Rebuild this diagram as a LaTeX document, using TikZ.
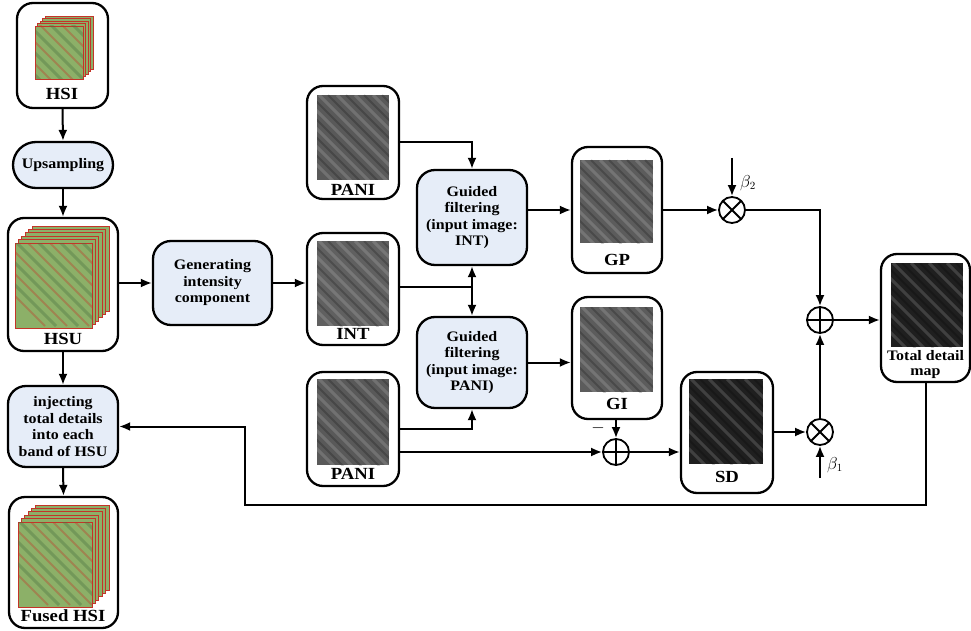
\documentclass[tikz,border=0pt]{standalone}
\usepackage{fontspec}
\setmainfont{Liberation Serif}[FakeStretch=1.1]
\usetikzlibrary{arrows.meta,positioning,calc}
\definecolor{procfill}{RGB}{230,237,248}
\definecolor{hsgreen}{RGB}{140,176,104}
\definecolor{hsred}{RGB}{196,52,40}
\definecolor{hsdark}{RGB}{70,110,62}
\tikzset{
  imgbox/.style={draw,line width=2.3pt,rounded corners=16pt,inner sep=0pt},
  procbox/.style={draw,line width=2.3pt,rounded corners=18pt,fill=procfill,align=center,inner sep=0pt,
    font=\fontsize{14.5}{16.5}\selectfont\bfseries},
  lbl/.style={font=\fontsize{17}{18}\selectfont\bfseries,inner sep=0pt},
  op/.style={draw,circle,line width=1.8pt,minimum size=26pt,inner sep=0pt},
  plusop/.style={op,path picture={\draw[line width=1.8pt]
    (path picture bounding box.north) -- (path picture bounding box.south)
    (path picture bounding box.west) -- (path picture bounding box.east);}},
  timesop/.style={op,path picture={\draw[line width=1.8pt]
    (path picture bounding box.north west) -- (path picture bounding box.south east)
    (path picture bounding box.north east) -- (path picture bounding box.south west);}},
  conn/.style={line width=2pt,-{Latex[length=11pt,width=9pt]}},
  wire/.style={line width=2pt},
}
% gray picture: x1 y1 x2 y2 fill
\newcommand{\grayimg}[5]{%
  \begin{scope}
    \clip (#1,#2) rectangle (#3,#4);
    \fill[#5] (#1,#2) rectangle (#3,#4);
    \foreach \k in {0,18,...,150}
      \draw[white,opacity=0.15,line width=3pt] (#1-70+\k,#2) -- ++(90,90);
    \foreach \k in {9,27,...,150}
      \draw[black,opacity=0.2,line width=2pt] (#1-70+\k,#2) -- ++(90,90);
  \end{scope}}
% stack of colour bands: x1 y1 x2 y2 layers shift
\newcommand{\hsstack}[6]{%
  \foreach \i in {#5,...,0}{
    \begin{scope}[shift={(\i*#6,-\i*#6)}]
      \fill[hsgreen,draw=hsred,line width=0.8pt] (#1,#2+#5*#6) rectangle (#3-#5*#6,#4);
    \end{scope}}
  \begin{scope}
    \clip (#1,#2+#5*#6) rectangle (#3-#5*#6,#4);
    \foreach \k in {0,22,...,150}
      \draw[hsred,opacity=0.35,line width=2pt] (#1-70+\k,#2) -- ++(100,100);
    \foreach \k in {11,33,...,150}
      \draw[hsdark,opacity=0.35,line width=3pt] (#1-70+\k,#2) -- ++(100,100);
  \end{scope}}
\begin{document}
\begin{tikzpicture}[x=1pt,y=-1pt]
\useasboundingbox (0,0) rectangle (971,631);
% boxes
\node[imgbox,minimum width=91pt,minimum height=105pt] (hsi) at (62.5,55.5) {};
\node[procbox,rounded corners=23pt,minimum width=100pt,minimum height=46pt] (up) at (63,165) {Upsampling};
\node[imgbox,minimum width=110pt,minimum height=133pt] (hsu) at (63,284.5) {};
\node[procbox,minimum width=119pt,minimum height=84pt] (gen) at (212.5,283) {Generating\\intensity\\component};
\node[procbox,minimum width=110pt,minimum height=81pt] (inj) at (63,426.5) {injecting\\total details\\into each\\band of HSU};
\node[imgbox,minimum width=109pt,minimum height=131pt] (fus) at (63.5,562.5) {};
\node[imgbox,minimum width=92pt,minimum height=113pt] (pan1) at (353,142.5) {};
\node[imgbox,minimum width=92pt,minimum height=112pt] (int) at (353,289) {};
\node[imgbox,minimum width=92pt,minimum height=114pt] (pan2) at (353,429) {};
\node[procbox,minimum width=110pt,minimum height=95pt] (gf1) at (472,217.5) {Guided\\filtering\\(input image:\\INT)};
\node[procbox,minimum width=110pt,minimum height=91pt] (gf2) at (472,362.5) {Guided\\filtering\\(input image:\\PANI)};
\node[imgbox,minimum width=90pt,minimum height=126pt] (gp) at (617,210) {};
\node[imgbox,minimum width=90pt,minimum height=122pt] (gi) at (617,358) {};
\node[imgbox,minimum width=92pt,minimum height=121pt] (sd) at (727,432.5) {};
\node[imgbox,minimum width=89pt,minimum height=128pt] (tot) at (925.5,318) {};
\node[plusop] (sub) at (616,452) {};
\node[timesop] (mul2) at (732,210) {};
\node[timesop] (mul1) at (820,432) {};
\node[plusop] (add) at (820,320) {};
% pictures
\hsstack{35}{16}{93}{79}{4}{2.5}
\hsstack{15}{226}{109}{328}{5}{3.4}
\hsstack{18}{505}{109}{607}{5}{3.4}
\grayimg{317}{95}{389}{180}{gray!70!black}
\grayimg{317}{241}{389}{326}{gray!75!black}
\grayimg{317}{379}{389}{465}{gray!70!black}
\grayimg{580}{160}{653}{243}{gray!72!black}
\grayimg{580}{307}{653}{392}{gray!72!black}
\grayimg{689}{379}{763}{464}{black!88}
\grayimg{891}{263}{963}{347}{black!88}
% labels
\node[lbl] (hsilbl) at (62,94) {HSI};
\node[lbl] (hsulbl) at (63,339) {HSU};
\node[lbl] (fuslbl) at (63,616) {Fused HSI};
\node[lbl] (pan1lbl) at (353,190) {PANI};
\node[lbl] (intlbl) at (353,334) {INT};
\node[lbl] (pan2lbl) at (353,474) {PANI};
\node[lbl] (gplbl) at (617,260) {GP};
\node[lbl] (gilbl) at (617,404) {GI};
\node[lbl] (sdlbl) at (727,477) {SD};
\node[lbl,align=center,font=\fontsize{14.5}{15}\selectfont\bfseries] (totlbl) at (925.5,365) {Total detail\\map};
\node[font=\fontsize{16}{16}\selectfont] (minus) at (598,428) {$-$};
\node[font=\fontsize{16}{16}\selectfont] (b2lbl) at (748,183) {$\beta_2$};
\node[font=\fontsize{16}{16}\selectfont] (b1lbl) at (835,465) {$\beta_1$};
\coordinate (b2) at (732,158);
\coordinate (b1) at (820,478);
\coordinate (fb) at (245,505);
% connectors
\draw[conn] (hsi.south) -- (up.north);
\draw[conn] (up.south) -- (hsu.north);
\draw[conn] (hsu.east |- gen) -- (gen.west);
\draw[conn] (gen.east) -- (gen.east -| int.west);
\draw[conn] (hsu.south) -- (inj.north);
\draw[conn] (inj.south) -- (fus.north);
\draw[conn] (pan1.east) -| (gf1.north);
\coordinate (split) at ($(int.east -| gf1)+(0,-2)$);
\draw[wire] (int.east |- split) -- (split);
\draw[conn] (split) -- (gf1.south);
\draw[conn] (split) -- (gf2.north);
\draw[conn] (pan2.east) -| (gf2.south);
\draw[conn] (pan2.east |- sub) -- (sub.west);
\draw[conn] (gf1.east |- gp) -- (gp.west);
\draw[conn] (gf2.east) -- (gf2.east -| gi.west);
\draw[conn] (gi.south -| sub) -- (sub.north);
\draw[conn] (sub.east) -- (sub -| sd.west);
\draw[conn] (mul1 -| sd.east) -- (mul1.west);
\draw[conn] (b1) -- (mul1.south);
\draw[conn] (mul1.north) -- (add.south);
\draw[conn] (mul2 -| gp.east) -- (mul2.west);
\draw[conn] (b2) -- (mul2.north);
\draw[conn] (mul2.east) -| (add.north);
\draw[conn] (add.east) -- (add -| tot.west);
\draw[conn] (tot.south) |- (fb) |- (inj.east);
\end{tikzpicture}
\end{document}
